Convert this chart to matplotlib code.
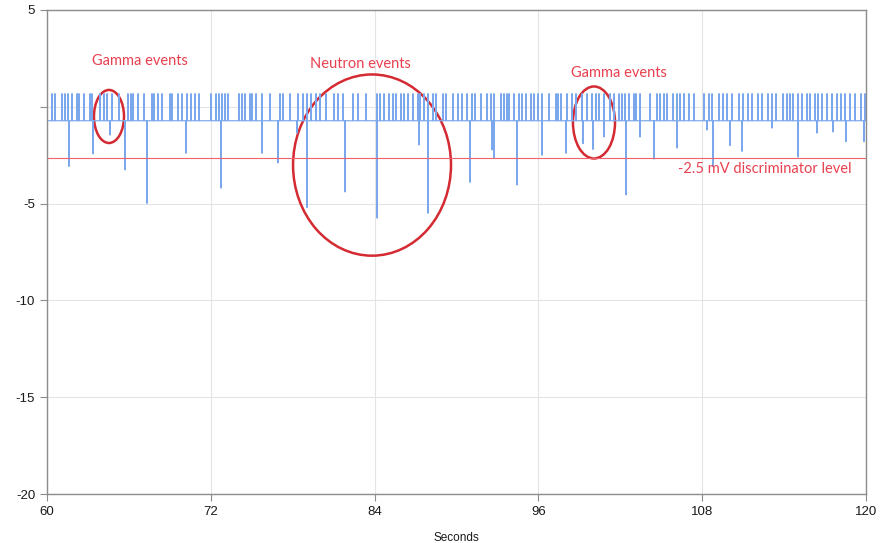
import matplotlib
matplotlib.use("Agg")
import matplotlib.pyplot as plt
from matplotlib.patches import Ellipse
import numpy as np

# signal levels (mV)
baseline = -0.72
spike_top = 0.68
discriminator = -2.65

# times (s) of the upward pulses
up_times = [
    60.37, 60.59, 61.10, 61.32, 61.54, 61.83, 62.20, 62.34, 62.71, 63.15,
    63.30, 63.88, 64.18, 64.40, 64.76, 65.27, 65.93, 66.15, 66.30, 66.67,
    67.11, 67.69, 67.84, 68.13, 68.42, 69.01, 69.16, 69.60, 69.89, 70.26,
    70.55, 70.84, 71.14, 72.01, 72.38, 72.60, 72.82, 73.04, 73.26, 74.07,
    74.29, 74.51, 74.87, 75.02, 75.31, 75.75, 76.34, 77.07, 77.29, 77.80,
    78.39, 78.75, 79.05, 79.34, 79.71, 80.00, 80.44, 81.03, 81.32, 81.68,
    82.42, 82.78, 83.37, 84.18, 84.40, 84.69, 85.05, 85.35, 85.57, 85.93,
    86.15, 86.45, 86.81, 87.18, 87.33, 87.62, 87.91, 88.28, 88.50, 89.01,
    89.23, 89.74, 90.11, 90.40, 90.77, 91.14, 91.36, 91.79, 92.23, 92.53,
    92.75, 93.26, 93.48, 93.70, 93.85, 94.21, 94.58, 94.80, 95.09, 95.46,
    95.68, 95.97, 96.26, 96.78, 97.29, 97.44, 97.66, 98.10, 98.46, 98.75,
    99.19, 99.56, 99.93, 100.22, 100.44, 100.81, 101.25, 101.54, 101.90,
    102.12, 102.34, 102.64, 103.00, 103.15, 103.44, 104.18, 104.69, 104.91,
    105.20, 105.42, 105.86, 106.15, 106.37, 106.67, 107.03, 107.40, 108.13,
    108.50, 108.72, 109.23, 109.52, 109.82, 110.18, 110.70, 110.99, 111.36,
    111.65, 112.09, 112.38, 112.82, 113.11, 113.41, 113.92, 114.21, 114.43,
    114.65, 115.02, 115.31, 115.68, 115.90, 116.26, 116.48, 116.78, 117.14,
    117.51, 117.88, 118.17, 118.46, 118.83, 119.19, 119.63, 119.93,
]

# times (s) and depths (mV) of the downward pulses
down_times = [
    61.61, 63.37, 64.62, 65.71, 67.33, 70.18, 72.75, 75.75, 76.92, 78.32,
    79.05, 81.83, 84.18, 87.25, 87.91, 90.99, 92.60, 92.75, 94.43, 96.26,
    98.02, 99.27, 100.00, 100.81, 102.42, 103.44, 104.47, 106.15, 108.35,
    108.79, 110.04, 110.92, 113.11, 115.02, 116.41, 117.58, 118.53, 119.85,
]
down_depths = [
    -3.08, -2.43, -1.46, -3.26, -4.99, -2.40, -4.20, -2.40, -2.90, -1.36,
    -5.20, -4.40, -5.75, -1.97, -5.50, -3.90, -2.23, -2.65, -4.04, -2.50,
    -2.40, -1.90, -2.20, -1.56, -4.55, -1.56, -2.70, -2.13, -1.20,
    -3.10, -2.00, -2.30, -1.10, -2.60, -1.36, -1.30, -1.80, -1.80,
]

x_ticks = [60, 72, 84, 96, 108, 120]
y_ticks = [5, 0, -5, -10, -15, -20]
y_tick_labels = ["5", "", "-5", "-10", "-15", "-20"]


def build_trace():
    """Turns the pulse lists into one line: flat baseline with sharp pulses."""
    pulses = [(t, spike_top) for t in up_times]
    pulses += list(zip(down_times, down_depths))
    pulses.sort()
    xs, ys = [60.0], [baseline]
    half = 0.015
    for t, v in pulses:
        xs += [t - half, t, t + half]
        ys += [baseline, v, baseline]
    xs.append(120.0)
    ys.append(baseline)
    return np.array(xs), np.array(ys)


def main():
    fig = plt.figure(figsize=(8.92, 5.43), dpi=100)
    ax = fig.add_axes([0.0527, 0.0902, 0.9182, 0.8914])

    t, v = build_trace()
    ax.plot(t, v, color="#7ba8ec", lw=0.85)
    ax.axhline(discriminator, color="#f0636b", lw=0.8)

    red = "#d42a32"
    for cx, cy, w, h in [(64.54, -0.5, 2.2, 2.74),
                         (83.81, -3.01, 11.57, 9.36),
                         (100.07, -0.81, 3.08, 3.72)]:
        ax.add_patch(Ellipse((cx, cy), w, h, fill=False, ec=red, lw=1.8))

    txt = dict(color="#e8404f", fontsize=10.5, family="Lato",
               ha="center", va="center")
    ax.text(66.8, 2.34, "Gamma events", **txt)
    ax.text(82.93, 2.19, "Neutron events", **txt)
    ax.text(101.9, 1.77, "Gamma events", **txt)
    ax.text(112.6, -3.19, "-2.5 mV discriminator level", **txt)

    ax.set_xlim(60, 120)
    ax.set_ylim(-20, 5)
    ax.set_xticks(x_ticks)
    ax.set_xticklabels([str(x) for x in x_ticks])
    ax.set_yticks(y_ticks)
    ax.set_yticklabels(y_tick_labels)
    ax.grid(True, color="#e4e4e4", lw=0.8)
    ax.set_axisbelow(True)
    for s in ax.spines.values():
        s.set_color("#8c8c8c")
        s.set_linewidth(1.0)
    ax.tick_params(colors="#8c8c8c", labelcolor="#1a1a1a", length=5,
                   labelsize=9.5)
    for lab in ax.get_xticklabels() + ax.get_yticklabels():
        lab.set_family("Liberation Sans")
    ax.set_xlabel("Seconds", fontsize=8.5, family="Liberation Sans",
                  color="#1a1a1a", labelpad=10)

    fig.savefig("out.png", dpi=100)


if __name__ == '__main__':
    main()
